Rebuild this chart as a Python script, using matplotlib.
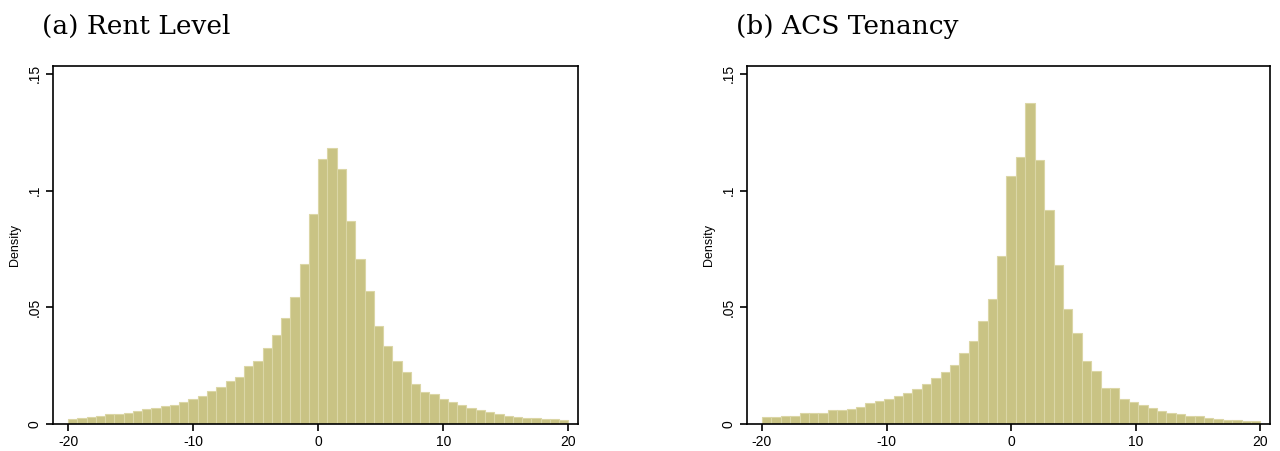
import numpy as np
import matplotlib
matplotlib.use("Agg")
import matplotlib.pyplot as plt

# ---- data (density per bin, bins span -20..20) ----
rent_nbins = 54
rent_density = [0.0023, 0.0024, 0.0032, 0.0035, 0.0041, 0.0044, 0.0048, 0.0055, 0.0063, 0.0070,
                0.0079, 0.0082, 0.0096, 0.0106, 0.0118, 0.0140, 0.0160, 0.0184, 0.0200, 0.0248,
                0.0270, 0.0326, 0.0381, 0.0453, 0.0546, 0.0684, 0.0898, 0.1136, 0.1183, 0.1091,
                0.0871, 0.0708, 0.0569, 0.0419, 0.0336, 0.0270, 0.0221, 0.0170, 0.0138, 0.0128,
                0.0107, 0.0094, 0.0080, 0.0070, 0.0059, 0.0050, 0.0043, 0.0035, 0.0030, 0.0027,
                0.0024, 0.0023, 0.0021, 0.0017]

acs_nbins = 53
acs_density = [0.0029, 0.0032, 0.0035, 0.0035, 0.0045, 0.0045, 0.0049, 0.0059, 0.0058, 0.0066,
               0.0074, 0.0089, 0.0098, 0.0108, 0.0119, 0.0132, 0.0151, 0.0170, 0.0198, 0.0224,
               0.0251, 0.0305, 0.0356, 0.0440, 0.0537, 0.0722, 0.1064, 0.1144, 0.1375, 0.1133,
               0.0916, 0.0683, 0.0492, 0.0390, 0.0272, 0.0229, 0.0155, 0.0155, 0.0108, 0.0096,
               0.0082, 0.0069, 0.0055, 0.0048, 0.0042, 0.0036, 0.0033, 0.0026, 0.0022, 0.0019,
               0.0016, 0.0014, 0.0012]

x_range = (-20, 20)
x_ticks = [-20, -10, 0, 10, 20]
y_ticks = [0, 0.05, 0.1, 0.15]
y_ticklabels = ["0", ".05", ".1", ".15"]
titles = ["(a) Rent Level", "(b) ACS Tenancy"]

fill = "#C9C384"
edge = "#DBD6A6"

fig = plt.figure(figsize=(12.8, 4.51), dpi=100)
W, H = 1280, 451

panels = [
    (rent_nbins, rent_density, 53, 578, 42),
    (acs_nbins, acs_density, 747, 1270, 736),
]

for (nb, dens, l, r, tx), title in zip(panels, titles):
    top, bot = 66, 424
    ax = fig.add_axes([l / W, (H - bot) / H, (r - l) / W, (bot - top) / H])
    edges = np.linspace(x_range[0], x_range[1], nb + 1)
    ax.bar(edges[:-1], dens, width=np.diff(edges), align="edge",
           color=fill, edgecolor=edge, linewidth=0.8, zorder=2)
    ax.set_xlim(-21.2, 20.77)
    ax.set_ylim(0, 0.1534)
    ax.set_xticks(x_ticks)
    ax.set_xticklabels([str(t) for t in x_ticks], fontfamily="Liberation Sans", fontsize=10)
    ax.set_yticks(y_ticks)
    ax.set_yticklabels(y_ticklabels, fontfamily="Liberation Sans", fontsize=10,
                       rotation=90, va="center")
    ax.tick_params(axis="both", direction="out", length=5, width=1.2, color="black", pad=3)
    ax.set_ylabel("Density", fontfamily="Liberation Sans", fontsize=9, labelpad=5)
    for s in ax.spines.values():
        s.set_linewidth(1.2)
        s.set_color("black")
        s.set_zorder(3)
    fig.text(tx / W, (H - 34) / H, title, fontfamily="DejaVu Serif", fontsize=19,
             ha="left", va="baseline")

fig.savefig("out.png", dpi=100, facecolor="white")
